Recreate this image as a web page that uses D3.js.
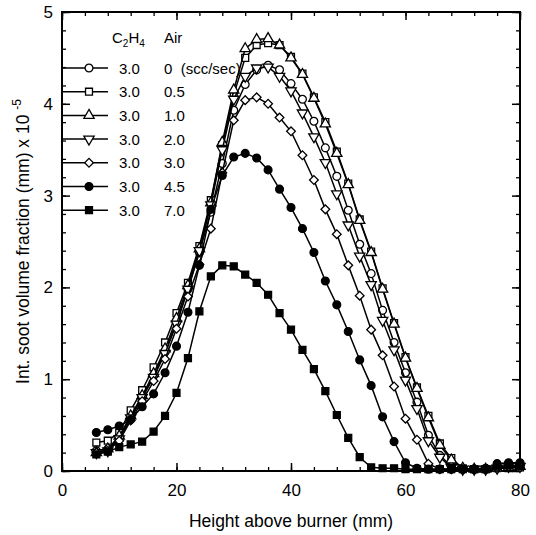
<!DOCTYPE html>
<html lang="en">
<head>
<meta charset="UTF-8">
<title>Soot volume fraction vs height</title>
<script src="https://d3js.org/d3.v7.min.js"></script>
<style>
  body { margin: 0; background: #fff; }
  svg text { font-family: 'Liberation Sans', Arial, sans-serif; fill: #000; }
  .axis path, .axis line { stroke: #000; }
</style>
</head>
<body>
<svg width="536" height="535"></svg>
<script>
// heights above burner (mm)
const heights = [6,8,10,12,14,16,18,20,22,24,26,28,30,32,34,36,38,40,42,44,46,48,50,52,54,56,58,60,62,64,66,68,70,72,74,76,78,80];

// integrated soot volume fraction (mm) x 10^-5, one array per air flow
const air0   = [0.22,0.24,0.36,0.58,0.80,1.04,1.30,1.62,1.98,2.38,2.82,3.35,3.93,4.21,4.37,4.42,4.37,4.22,4.05,3.81,3.52,3.21,2.84,2.47,2.15,1.75,1.40,1.07,0.75,0.39,0.17,0.05,0.02,0.02,0.02,0.03,0.04,0.04];
const air05  = [0.31,0.33,0.42,0.66,0.88,1.13,1.40,1.72,2.05,2.45,2.95,3.55,4.10,4.50,4.64,4.66,4.64,4.51,4.33,4.07,3.80,3.48,3.13,2.74,2.39,1.99,1.61,1.24,0.91,0.60,0.30,0.14,0.03,0.02,0.02,0.03,0.03,0.04];
const air10  = [0.20,0.24,0.38,0.60,0.82,1.06,1.33,1.66,2.02,2.42,2.92,3.58,4.15,4.60,4.70,4.71,4.64,4.50,4.32,4.06,3.78,3.46,3.12,2.73,2.38,1.98,1.60,1.23,0.90,0.58,0.28,0.12,0.03,0.02,0.02,0.03,0.04,0.05];
const air20  = [0.20,0.22,0.35,0.58,0.80,1.02,1.28,1.60,1.98,2.40,2.90,3.50,4.05,4.30,4.39,4.40,4.30,4.14,3.90,3.64,3.36,3.02,2.68,2.34,2.03,1.64,1.32,0.99,0.68,0.33,0.15,0.04,0.02,0.02,0.02,0.03,0.05,0.05];
const air30  = [0.20,0.22,0.33,0.55,0.76,0.98,1.22,1.55,1.90,2.25,2.64,3.25,3.82,4.04,4.07,4.00,3.85,3.70,3.44,3.17,2.85,2.58,2.24,1.91,1.54,1.26,0.92,0.57,0.34,0.08,0.02,0.02,0.02,0.02,0.02,0.04,0.05,0.06];
const air45  = [0.42,0.45,0.49,0.56,0.70,0.84,1.07,1.36,1.73,2.24,2.85,3.22,3.42,3.46,3.41,3.28,3.07,2.87,2.64,2.38,2.07,1.81,1.52,1.21,0.93,0.59,0.32,0.09,0.03,0.02,0.02,0.02,0.02,0.02,0.03,0.08,0.09,0.09];
const air70  = [0.18,0.21,0.26,0.29,0.32,0.43,0.60,0.85,1.23,1.74,2.12,2.24,2.23,2.14,2.05,1.92,1.72,1.54,1.32,1.11,0.87,0.61,0.36,0.15,0.04,0.03,0.03,0.02,0.02,0.02,0.02,0.02,0.02,0.02,0.02,0.05,0.06,0.06];

const ethyleneLabels = ["3.0","3.0","3.0","3.0","3.0","3.0","3.0"];
const airLabels = ["0  (scc/sec)","0.5","1.0","2.0","3.0","4.5","7.0"];
const markerKinds = ["circle","square","triangle","triangleDown","diamond","circleFilled","squareFilled"];

const xTicks = [0,20,40,60,80];
const yTicks = [0,1,2,3,4,5];

const seriesList = [air0, air05, air10, air20, air30, air45, air70];

const svg = d3.select("svg"),
    margin = {top: 12, right: 16, bottom: 64, left: 62},
    width = +svg.attr("width") - margin.left - margin.right,
    height = +svg.attr("height") - margin.top - margin.bottom;

const g = svg.append("g").attr("transform", `translate(${margin.left},${margin.top})`);

const x = d3.scaleLinear().domain([0, 80]).range([0, width]);
const y = d3.scaleLinear().domain([0, 5]).range([height, 0]);

const xMinor = d3.range(0, 81, 4);
const yMinor = d3.range(0, 5.01, 0.2).map(v => +v.toFixed(1));

// minor ticks (all four sides, pointing inward)
function minorAxis(axis, translate) {
    const a = g.append("g").attr("class", "axis").attr("transform", translate).call(axis);
    a.select(".domain").remove();
    a.selectAll("text").remove();
    a.selectAll("line").attr("stroke-width", 1.3);
}
minorAxis(d3.axisBottom(x).tickValues(xMinor).tickSize(-4), `translate(0,${height})`);
minorAxis(d3.axisTop(x).tickValues(xMinor).tickSize(-4), "translate(0,0)");
minorAxis(d3.axisLeft(y).tickValues(yMinor).tickSize(-4), "translate(0,0)");
minorAxis(d3.axisRight(y).tickValues(yMinor).tickSize(-4), `translate(${width},0)`);

// major ticks with labels
const xAxis = g.append("g").attr("class", "axis")
    .attr("transform", `translate(0,${height})`)
    .call(d3.axisBottom(x).tickValues(xTicks).tickSize(-8).tickPadding(13).tickFormat(d3.format("d")));
xAxis.select(".domain").remove();
xAxis.selectAll("line").attr("stroke-width", 1.5);
xAxis.selectAll("text").attr("font-size", 17);

const yAxis = g.append("g").attr("class", "axis")
    .call(d3.axisLeft(y).tickValues(yTicks).tickSize(-8).tickPadding(9).tickFormat(d3.format("d")));
yAxis.select(".domain").remove();
yAxis.selectAll("line").attr("stroke-width", 1.5);
yAxis.selectAll("text").attr("font-size", 17);

const topMajor = g.append("g").attr("class", "axis")
    .call(d3.axisTop(x).tickValues(xTicks).tickSize(-8).tickFormat(""));
topMajor.select(".domain").remove();
topMajor.selectAll("line").attr("stroke-width", 1.5);
const rightMajor = g.append("g").attr("class", "axis")
    .attr("transform", `translate(${width},0)`)
    .call(d3.axisRight(y).tickValues(yTicks).tickSize(-8).tickFormat(""));
rightMajor.select(".domain").remove();
rightMajor.selectAll("line").attr("stroke-width", 1.5);

// frame
g.append("rect")
    .attr("width", width).attr("height", height)
    .attr("fill", "none").attr("stroke", "#000").attr("stroke-width", 2);

// axis titles
svg.append("text")
    .attr("x", margin.left + width / 2)
    .attr("y", 527)
    .attr("text-anchor", "middle")
    .attr("font-size", 17.5)
    .text("Height above burner (mm)");

const yTitle = svg.append("text")
    .attr("transform", `translate(29,${margin.top + height / 2}) rotate(-90)`)
    .attr("text-anchor", "middle")
    .attr("font-size", 17.5);
yTitle.append("tspan").text("Int. soot volume fraction (mm) x 10 ");
yTitle.append("tspan").attr("font-size", 12).attr("dy", -8).text("-5");

// marker drawing
function drawMarker(sel, kind) {
    const base = {
        circle: d3.symbolCircle, circleFilled: d3.symbolCircle,
        square: d3.symbolSquare, squareFilled: d3.symbolSquare,
        triangle: d3.symbolTriangle, triangleDown: d3.symbolTriangle,
        diamond: d3.symbolSquare
    }[kind];
    const filled = kind.endsWith("Filled");
    const rot = kind === "triangleDown" ? 180 : kind === "diamond" ? 45 : 0;
    const size = kind === "diamond" ? 38 : kind.startsWith("triangle") ? 46 : 48;
    sel.append("path")
        .attr("d", d3.symbol().type(base).size(size))
        .attr("transform", function() {
            const t = d3.select(this.parentNode).attr("data-t");
            return t + (rot ? ` rotate(${rot})` : "");
        })
        .attr("fill", filled ? "#000" : "#fff")
        .attr("stroke", "#000")
        .attr("stroke-width", 1.3);
}

const line = d3.line().x(d => x(d[0])).y(d => y(d[1]));

seriesList.forEach((vals, i) => {
    const pts = heights.map((h, j) => [h, vals[j]]);
    g.append("path")
        .datum(pts)
        .attr("d", line)
        .attr("fill", "none")
        .attr("stroke", "#000")
        .attr("stroke-width", 1.5);
    g.selectAll(null)
        .data(pts)
        .enter().append("g")
        .attr("data-t", d => `translate(${x(d[0])},${y(d[1])})`)
        .each(function() { drawMarker(d3.select(this), markerKinds[i]); });
});

// legend
const legend = svg.append("g");
const header = legend.append("text").attr("x", 112).attr("y", 43).attr("font-size", 15);
header.append("tspan").text("C");
header.append("tspan").attr("font-size", 10).attr("dy", 4).text("2");
header.append("tspan").attr("dy", -4).text("H");
header.append("tspan").attr("font-size", 10).attr("dy", 4).text("4");
legend.append("text").attr("x", 164).attr("y", 43).attr("font-size", 15).text("Air");

airLabels.forEach((lab, i) => {
    const ry = 68 + i * 23.7;
    legend.append("line")
        .attr("x1", margin.left).attr("x2", 108)
        .attr("y1", ry).attr("y2", ry)
        .attr("stroke", "#000").attr("stroke-width", 1.5);
    const mg = legend.append("g").attr("data-t", `translate(89,${ry})`);
    drawMarker(mg, markerKinds[i]);
    legend.append("text").attr("x", 119).attr("y", ry + 5.5).attr("font-size", 15).text(ethyleneLabels[i]);
    legend.append("text").attr("x", 164).attr("y", ry + 5.5).attr("font-size", 15)
        .style("white-space", "pre").text(lab);
});
</script>
</body>
</html>
